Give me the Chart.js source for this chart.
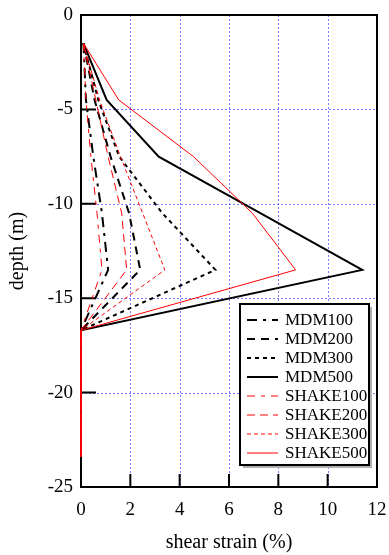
<!DOCTYPE html>
<html>
<head>
<meta charset="UTF-8" />
<title>shear strain profile</title>
<script src="https://cdn.jsdelivr.net/npm/chart.js@4.4.0/dist/chart.umd.min.js"></script>
<style>
  html, body { margin: 0; padding: 0; background: #fff; }
</style>
</head>
<body>
<canvas id="chart" width="389" height="555"></canvas>
<script>
// depth of each profile point (m)
const depths = [-1.5, -4.5, -7.5, -10.5, -13.5, -16.7, -23.4]

const seriesNames = ['MDM100', 'MDM200', 'MDM300', 'MDM500', 'SHAKE100', 'SHAKE200', 'SHAKE300', 'SHAKE500']

// shear strain (%) at each depth
const mdm100 = [0.1, 0.2, 0.5, 0.85, 1.1, 0, 0]
const mdm200 = [0.1, 0.55, 1.2, 1.95, 2.4, 0, 0]
const mdm300 = [0.1, 0.7, 1.55, 3.3, 5.45, 0, 0]
const mdm500 = [0.1, 1.04, 3.15, 7.27, 11.4, 0, 0]
const shake100 = [0.1, 0.2, 0.4, 0.65, 0.85, 0, 0]
const shake200 = [0.1, 0.6, 1.1, 1.65, 1.85, 0, 0]
const shake300 = [0.1, 0.75, 1.6, 2.5, 3.4, 0, 0]
const shake500 = [0.1, 1.53, 4.56, 6.95, 8.7, 0, 0]

const xTicks = [0, 2, 4, 6, 8, 10, 12]
const yTicks = [0, -5, -10, -15, -20, -25]

const values = [mdm100, mdm200, mdm300, mdm500, shake100, shake200, shake300, shake500]
const colors = ['#000', '#000', '#000', '#000', '#ff0000', '#ff0000', '#ff0000', '#ff0000']
const widths = [2, 2, 2, 2, 1, 1, 1, 1]
const dashes = [[10, 6, 3, 6], [8, 6], [4, 4], [], [8, 6, 4, 6], [8, 5], [4, 3], []]

Chart.defaults.font.family = "'Liberation Serif', 'Times New Roman', serif"
Chart.defaults.color = '#000'

const datasets = values.map(function (v, i) {
  return {
    label: seriesNames[i],
    data: v.map(function (x, j) { return { x: x, y: depths[j] } }),
    borderColor: colors[i],
    borderWidth: widths[i],
    borderDash: dashes[i],
    pointRadius: 0,
    tension: 0,
    fill: false,
    clip: 4,
    order: i < 4 ? 1 : 0
  }
})

// dotted grid, frame and inward tick marks
const framePlugin = {
  id: 'frame',
  beforeDatasetsDraw(chart) {
    const ctx = chart.ctx
    const a = chart.chartArea
    const xs = chart.scales.x
    const ys = chart.scales.y
    ctx.save()
    ctx.strokeStyle = '#7a7aff'
    ctx.lineWidth = 1
    ctx.setLineDash([2, 2])
    ctx.beginPath()
    xTicks.forEach(function (t) {
      const px = Math.round(xs.getPixelForValue(t)) + 0.5
      ctx.moveTo(px, a.top)
      ctx.lineTo(px, a.bottom)
    })
    yTicks.forEach(function (t) {
      const py = Math.round(ys.getPixelForValue(t)) + 0.5
      ctx.moveTo(a.left, py)
      ctx.lineTo(a.right, py)
    })
    ctx.stroke()
    ctx.setLineDash([])
    ctx.strokeStyle = '#000'
    ctx.lineWidth = 2
    ctx.beginPath()
    xTicks.forEach(function (t) {
      const px = xs.getPixelForValue(t)
      ctx.moveTo(px, a.bottom)
      ctx.lineTo(px, a.bottom - 13)
    })
    yTicks.forEach(function (t) {
      const py = ys.getPixelForValue(t)
      ctx.moveTo(a.left, py)
      ctx.lineTo(a.left + 15, py)
    })
    ctx.stroke()
    ctx.strokeRect(a.left, a.top, a.right - a.left, a.bottom - a.top)
    ctx.restore()
  }
}

// boxed legend inside the plot
const legendPlugin = {
  id: 'boxLegend',
  afterDatasetsDraw(chart) {
    const ctx = chart.ctx
    const a = chart.chartArea
    const bx = a.right - 137
    const by = a.bottom - 183
    const bw = 129
    const bh = 161
    ctx.save()
    ctx.fillStyle = '#b0b0b0'
    ctx.fillRect(bx + 3, by + 3, bw, bh)
    ctx.fillStyle = '#fff'
    ctx.fillRect(bx, by, bw, bh)
    ctx.strokeStyle = '#000'
    ctx.lineWidth = 2
    ctx.strokeRect(bx, by, bw, bh)
    ctx.font = "17px 'Liberation Serif', serif"
    ctx.textBaseline = 'middle'
    chart.data.datasets.forEach(function (ds, i) {
      const y = by + 16 + i * 19
      ctx.strokeStyle = ds.borderColor
      ctx.lineWidth = ds.borderWidth
      ctx.setLineDash(ds.borderDash)
      ctx.beginPath()
      ctx.moveTo(bx + 7, y)
      ctx.lineTo(bx + 38, y)
      ctx.stroke()
      ctx.setLineDash([])
      ctx.fillStyle = '#000'
      ctx.fillText(ds.label, bx + 45, y + 1)
    })
    ctx.restore()
  }
}

new Chart(document.getElementById('chart'), {
  type: 'line',
  data: { datasets: datasets },
  options: {
    responsive: false,
    animation: false,
    events: [],
    layout: { padding: { top: 15, right: 12, left: 0, bottom: 0 } },
    plugins: { legend: { display: false }, tooltip: { enabled: false } },
    scales: {
      x: {
        type: 'linear',
        min: 0,
        max: 12,
        afterFit(scale) {
          scale.height = 68
          scale.paddingLeft = 0
          scale.paddingRight = 0
        },
        afterBuildTicks(scale) { scale.ticks = xTicks.map(function (v) { return { value: v } }) },
        grid: { display: false, drawTicks: false },
        border: { display: false },
        ticks: { font: { size: 19 }, padding: 12, maxRotation: 0 },
        title: { display: true, text: 'shear strain (%)', font: { size: 20 }, padding: { top: 0, bottom: 0 } }
      },
      y: {
        type: 'linear',
        min: -25,
        max: 0,
        afterFit(scale) {
          scale.width = 81
          scale.paddingTop = 0
          scale.paddingBottom = 0
        },
        afterBuildTicks(scale) { scale.ticks = yTicks.map(function (v) { return { value: v } }) },
        grid: { display: false, drawTicks: false },
        border: { display: false },
        ticks: { font: { size: 19 }, padding: 8 },
        title: { display: true, text: 'depth (m)', font: { size: 20 }, padding: { top: 6, bottom: 4 } }
      }
    }
  },
  plugins: [framePlugin, legendPlugin]
})
</script>
</body>
</html>
